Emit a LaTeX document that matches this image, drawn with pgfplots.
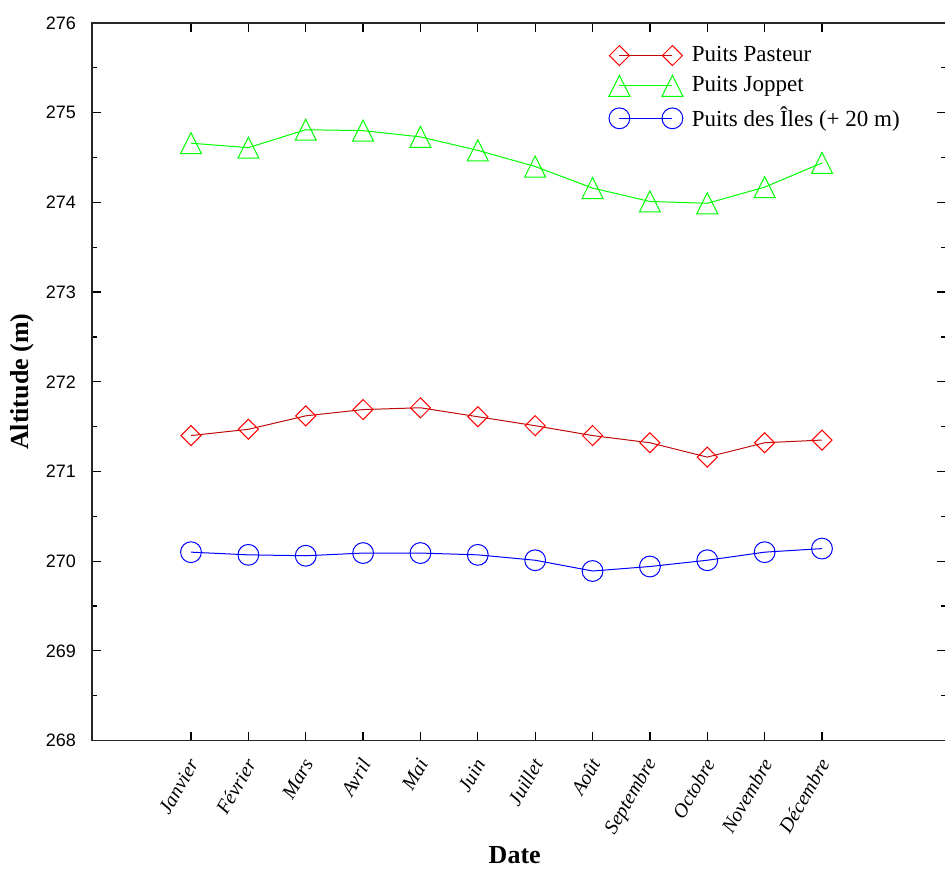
\documentclass[border=0pt]{standalone}
\usepackage{fontspec}
\setmainfont{Liberation Serif}
\setsansfont{Liberation Sans}
\usepackage{pgfplots}
\pgfplotsset{compat=1.18}
\pgfdeclareplotmark{gtri}{%
  \pgfpathmoveto{\pgfqpoint{0pt}{\pgfplotmarksize}}%
  \pgfpathlineto{\pgfqpoint{\pgfplotmarksize}{-\pgfplotmarksize}}%
  \pgfpathlineto{\pgfqpoint{-\pgfplotmarksize}{-\pgfplotmarksize}}%
  \pgfpathclose\pgfusepathqstroke}
\pgfdeclareplotmark{gdia}{%
  \pgfpathmoveto{\pgfqpoint{0pt}{\pgfplotmarksize}}%
  \pgfpathlineto{\pgfqpoint{\pgfplotmarksize}{0pt}}%
  \pgfpathlineto{\pgfqpoint{0pt}{-\pgfplotmarksize}}%
  \pgfpathlineto{\pgfqpoint{-\pgfplotmarksize}{0pt}}%
  \pgfpathclose\pgfusepathqstroke}
\definecolor{pred}{RGB}{255,0,0}
\definecolor{pdred}{RGB}{190,10,10}
\definecolor{pgreen}{RGB}{0,255,0}
\definecolor{pblue}{RGB}{0,0,255}
\begin{document}
\begin{tikzpicture}
\begin{axis}[
  at={(0,0)}, anchor=south west,
  scale only axis, width=427pt, height=358.75pt,
  xmin=-0.726, xmax=14.162, ymin=268, ymax=276,
  xtick={1,2,3,4,5,6,7,8,9,10,11,12},
  xticklabels={Janvier,Février,Mars,Avril,Mai,Juin,Juillet,Août,Septembre,Octobre,Novembre,Décembre},
  ytick={268,269,270,271,272,273,274,275,276},
  minor y tick num=1,
  tick align=inside,
  major tick length=4.3pt, minor tick length=2.5pt,
  every tick/.style={black, line width=0.6pt},
  axis line style={line width=0.6pt, black!85},
  /pgf/number format/assume math mode=true,
  /pgf/number format/1000 sep={},
  yticklabel style={font=\fontsize{9}{10}\selectfont\sffamily, xshift=-4.5pt},
  xticklabel style={font=\fontsize{10}{12}\selectfont\itshape, xshift=3pt, yshift=-7pt, rotate=60, anchor=east},
  xlabel={Date}, ylabel={Altitude (m)},
  xlabel style={font=\fontsize{13}{15}\selectfont\bfseries, at={(axis description cs:0.495,-0.1596)}, anchor=center},
  ylabel style={font=\fontsize{13}{15}\selectfont\bfseries, at={(axis description cs:-0.082,0.5)}, anchor=center},
  legend cell align=left,
  legend style={at={(0.6048,0.972)}, anchor=north west, draw=none, fill=none,
    font=\fontsize{11.5}{13}\selectfont, inner sep=0pt, row sep=3pt,
    nodes={inner sep=1.5pt},
    /tikz/every odd column/.append style={column sep=3pt}},
  legend image code/.code={\draw[#1] plot coordinates {(0pt,0pt) (26.5pt,0pt)};},
]
\addplot[color=pdred, line width=0.5pt, mark=gdia, mark size=5pt, mark options={pred, line width=0.5pt}]
  coordinates {(1,271.40) (2,271.47) (3,271.62) (4,271.69) (5,271.71) (6,271.61) (7,271.51) (8,271.40) (9,271.32) (10,271.16) (11,271.32) (12,271.35)};
\addlegendentry{Puits Pasteur}
\addplot[color=pgreen, line width=0.5pt, mark=gtri, mark size=5.25pt, mark options={pgreen, line width=0.5pt}]
  coordinates {(1,274.66) (2,274.61) (3,274.81) (4,274.80) (5,274.73) (6,274.58) (7,274.40) (8,274.16) (9,274.01) (10,273.99) (11,274.17) (12,274.44)};
\addlegendentry{Puits Joppet}
\addplot[color=pblue, line width=0.5pt, mark=o, mark size=5.2pt, mark options={pblue, line width=0.5pt}]
  coordinates {(1,270.10) (2,270.07) (3,270.06) (4,270.09) (5,270.09) (6,270.07) (7,270.01) (8,269.89) (9,269.94) (10,270.01) (11,270.10) (12,270.14)};
\addlegendentry{Puits des Îles (+ 20 m)}
\end{axis}
\pgfresetboundingbox
\path (-46pt,-63.75pt) rectangle (426.5pt,370.25pt);
\end{tikzpicture}
\end{document}
